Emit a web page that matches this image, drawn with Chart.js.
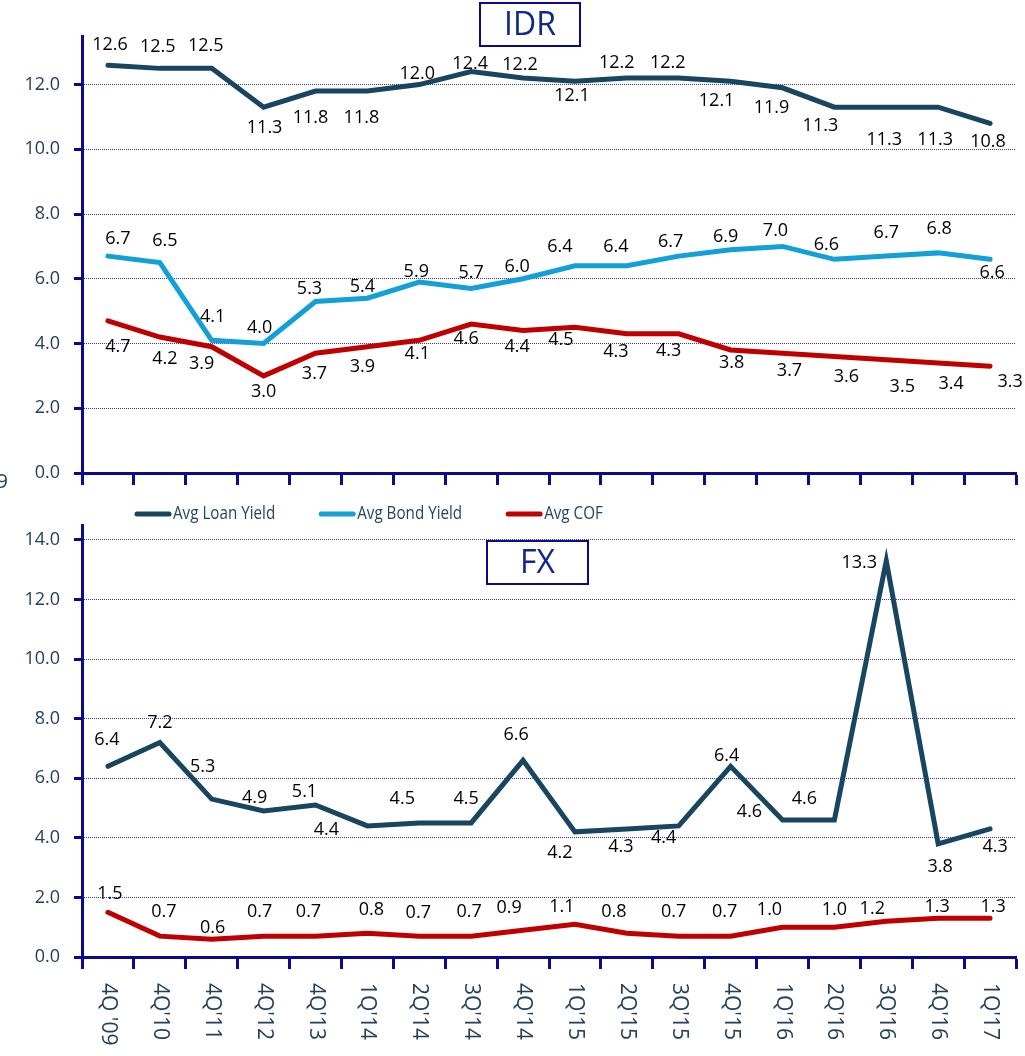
<!DOCTYPE html>
<html><head><meta charset="utf-8">
<script src="https://cdn.jsdelivr.net/npm/chart.js@4.4.0/dist/chart.umd.min.js"></script>
<style>
html,body{margin:0;padding:0;background:#fff;}
#wrap{position:relative;width:1025px;height:1056px;overflow:hidden;background:#fff;}
canvas{position:absolute;left:0;}
#cA{top:0;}
#cB{top:490px;}
</style></head><body>
<div id="wrap"><canvas id="cA" width="1025" height="490"></canvas><canvas id="cB" width="1025" height="566"></canvas></div>
<script>
// ---------- data ----------
const categories = ["4Q '09","4Q'10","4Q'11","4Q'12","4Q'13","1Q'14","2Q'14","3Q'14","4Q'14","1Q'15","2Q'15","3Q'15","4Q'15","1Q'16","2Q'16","3Q'16","4Q'16","1Q'17"];
const seriesNames = ["Avg Loan Yield","Avg Bond Yield","Avg COF"];
const idrLoan = [12.6,12.5,12.5,11.3,11.8,11.8,12.0,12.4,12.2,12.1,12.2,12.2,12.1,11.9,11.3,11.3,11.3,10.8];
const idrBond = [6.7,6.5,4.1,4.0,5.3,5.4,5.9,5.7,6.0,6.4,6.4,6.7,6.9,7.0,6.6,6.7,6.8,6.6];
const idrCof  = [4.7,4.2,3.9,3.0,3.7,3.9,4.1,4.6,4.4,4.5,4.3,4.3,3.8,3.7,3.6,3.5,3.4,3.3];
const fxLoan  = [6.4,7.2,5.3,4.9,5.1,4.4,4.5,4.5,6.6,4.2,4.3,4.4,6.4,4.6,4.6,13.3,3.8,4.3];
const fxCof   = [1.5,0.7,0.6,0.7,0.7,0.8,0.7,0.7,0.9,1.1,0.8,0.7,0.7,1.0,1.0,1.2,1.3,1.3];
const idrTicks = [0,2,4,6,8,10,12];
const fxTicks  = [0,2,4,6,8,10,12,14];

// ---------- label placement (offsets from each point, px) ----------
const idrLoanDx = [2,-2,-6,1,-5,-6,-2,-1,-3,-3,-10,-11,-14,-11,-14,-2,-3,-2];
const idrLoanDy = [-20,-21,-22,21,27,27,-11,-8,-13,15,-15,-15,20,20,19,33,33,18];
const idrBondDx = [10,5,1,-4,-6,-5,-3,0,-6,-15,-11,-8,-5,-7,-8,0,1,2];
const idrBondDy = [-17,-22,-23,-16,-13,-11,-10,-16,-12,-19,-19,-14,-13,-16,-14,-23,-24,14];
const idrCofDx  = [10,5,-10,0,-1,-5,-2,-5,-6,-14,-11,-10,1,7,12,16,13,20];
const idrCofDy  = [26,22,17,16,21,20,14,15,16,13,18,17,13,18,20,27,21,16];
const fxLoanDx  = [-1,0,-9,-9,-11,-41,-17,-5,-7,-15,-6,-15,-4,-33,-30,-27,2,5];
const fxLoanDy  = [-26,-20,-32,-13,-13,4,-24,-24,-25,21,18,12,-10,-8,-21,2,23,18];
const fxCofDx   = [2,4,1,-4,-7,4,-1,-2,-14,-13,-13,-5,-6,-13,0,-14,-1,3];
const fxCofDy   = [-18,-24,-11,-24,-24,-23,-23,-24,-22,-17,-21,-24,-24,-17,-17,-12,-11,-11];

// ---------- styles ----------
const C_LOAN = '#18455f', C_BOND = '#12a0d6', C_COF = '#c00000';
const AXIS = '#0a0a8a', GRID = '#3a3aa8', TICK = '#22405a', TITLE = '#10288a';
const FONT = '"Open Sans", "DejaVu Sans", sans-serif';

const valueLabels = {
  id: 'valueLabels',
  afterDatasetsDraw(chart) {
    const ctx = chart.ctx;
    ctx.save();
    ctx.font = '18px ' + FONT;
    ctx.fillStyle = '#000';
    ctx.textAlign = 'center';
    ctx.textBaseline = 'middle';
    chart.data.datasets.forEach((ds, di) => {
      if (!ds.labelDx) return;
      const meta = chart.getDatasetMeta(di);
      meta.data.forEach((pt, i) => {
        const v = ds.data[i];
        if (v == null) return;
        ctx.fillText(v.toFixed(1), pt.x + ds.labelDx[i], pt.y + ds.labelDy[i]);
      });
    });
    ctx.restore();
  }
};

function titleBox(text, x, y, w, h) {
  return {
    id: 'titleBox' + text,
    afterDraw(chart) {
      const ctx = chart.ctx;
      ctx.save();
      ctx.fillStyle = '#fff';
      ctx.fillRect(x, y, w, h);
      ctx.lineWidth = 2;
      ctx.strokeStyle = AXIS;
      ctx.strokeRect(x, y, w, h);
      ctx.fillStyle = TITLE;
      ctx.font = '32px ' + FONT;
      ctx.textAlign = 'center';
      ctx.textBaseline = 'middle';
      ctx.fillText(text, x + w / 2, y + h / 2 + 1);
      ctx.restore();
    }
  };
}

const strayLabel = {
  id: 'strayLabel',
  afterDraw(chart) {
    const ctx = chart.ctx;
    ctx.save();
    ctx.font = '20px ' + FONT;
    ctx.fillStyle = TICK;
    ctx.textAlign = 'right';
    ctx.textBaseline = 'middle';
    ctx.fillText('9', 8, 482);
    ctx.restore();
  }
};

const legendDraw = {
  id: 'legendDraw',
  afterDraw(chart) {
    const ctx = chart.ctx;
    const colors = [C_LOAN, C_BOND, C_COF];
    const squeeze = 0.8;
    let x = 135;
    const y = 24;
    ctx.save();
    ctx.font = '19px ' + FONT;
    ctx.textBaseline = 'middle';
    ctx.textAlign = 'left';
    seriesNames.forEach((name, i) => {
      ctx.strokeStyle = colors[i];
      ctx.lineWidth = 5;
      ctx.lineCap = 'round';
      ctx.beginPath();
      ctx.moveTo(x + 2, y);
      ctx.lineTo(x + 34, y);
      ctx.stroke();
      ctx.fillStyle = '#1f4660';
      ctx.save();
      ctx.translate(x + 38, y);
      ctx.scale(squeeze, 1);
      ctx.fillText(name, 0, 0);
      ctx.restore();
      x += 38 + ctx.measureText(name).width * squeeze + 44;
    });
    ctx.restore();
  }
};

const xLabels = {
  id: 'xLabels',
  afterDraw(chart) {
    const sx = chart.scales.x;
    const ctx = chart.ctx;
    ctx.save();
    ctx.font = '21px ' + FONT;
    ctx.fillStyle = TICK;
    ctx.textAlign = 'left';
    ctx.textBaseline = 'middle';
    chart.data.labels.forEach((lab, i) => {
      const x = sx.getPixelForValue(i);
      ctx.save();
      ctx.translate(x, sx.top + 26);
      ctx.rotate(Math.PI / 2);
      ctx.fillText(lab, 0, 0);
      ctx.restore();
    });
    ctx.restore();
  }
};

function xScale(h) {
  return {
    type: 'category', offset: true,
    grid: {offset: true, drawOnChartArea: false, drawTicks: true, tickLength: 12, tickWidth: 3, tickColor: AXIS, color: AXIS},
    border: {display: true, color: AXIS, width: 3},
    ticks: {display: false},
    afterFit: s => { s.height = h; s.paddingLeft = 0; s.paddingRight = 0; }
  };
}
function yScale(max, tickVals) {
  return {
    min: 0, max: max,
    afterBuildTicks: s => { s.ticks = tickVals.map(v => ({value: v})); },
    ticks: {callback: v => Number(v).toFixed(1), color: TICK, font: {family: FONT, size: 18}, padding: 14},
    grid: {color: GRID, lineWidth: 1, drawTicks: true, tickLength: 8, tickWidth: 3, tickColor: AXIS},
    border: {display: true, color: AXIS, width: 3, dash: [1, 1]},
    afterFit: s => { s.width = 82; s.paddingTop = 0; s.paddingBottom = 0; }
  };
}
function ds(label, data, color, dx, dy) {
  return {label, data, borderColor: color, backgroundColor: color, labelDx: dx, labelDy: dy,
    borderWidth: 5, pointRadius: 0, pointHoverRadius: 0, tension: 0, borderCapStyle: 'round', borderJoinStyle: 'miter', fill: false};
}
const common = {
  responsive: false, animation: false, devicePixelRatio: 1,
  plugins: {legend: {display: false}, tooltip: {enabled: false}},
  events: []
};

new Chart(document.getElementById('cA'), {
  type: 'line',
  data: {labels: categories, datasets: [
    ds(seriesNames[0], idrLoan, C_LOAN, idrLoanDx, idrLoanDy),
    ds(seriesNames[1], idrBond, C_BOND, idrBondDx, idrBondDy),
    ds(seriesNames[2], idrCof, C_COF, idrCofDx, idrCofDy)
  ]},
  options: Object.assign({}, common, {
    layout: {padding: {top: 36, right: 9, left: 0, bottom: 0}},
    scales: {x: xScale(17), y: yScale(13.5, idrTicks)}
  }),
  plugins: [valueLabels, titleBox('IDR', 480, 3, 100, 43), strayLabel]
});

new Chart(document.getElementById('cB'), {
  type: 'line',
  data: {labels: categories, datasets: [
    ds(seriesNames[0], fxLoan, C_LOAN, fxLoanDx, fxLoanDy),
    ds(seriesNames[2], fxCof, C_COF, fxCofDx, fxCofDy)
  ]},
  options: Object.assign({}, common, {
    layout: {padding: {top: 35, right: 9, left: 0, bottom: 0}},
    scales: {x: xScale(99), y: yScale(14.5, fxTicks)}
  }),
  plugins: [valueLabels, titleBox('FX', 487, 51, 101, 43), legendDraw, xLabels]
});
</script>
</body></html>
